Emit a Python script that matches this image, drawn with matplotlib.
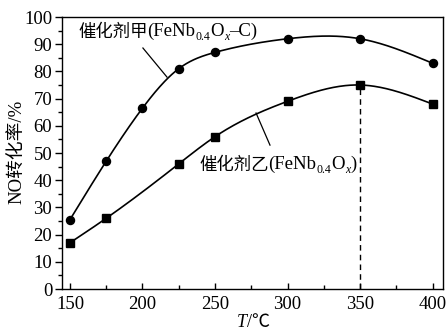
import numpy as np
import matplotlib
matplotlib.use("Agg")
import matplotlib.pyplot as plt
from matplotlib import transforms

# ---- data ----
t_a = [150, 175, 200, 225, 250, 300, 350, 400]
conv_a = [25.5, 47, 66.5, 81, 87, 92, 92, 83]
t_b = [150, 175, 225, 250, 300, 350, 400]
conv_b = [17, 26, 46, 56, 69, 75, 68]
xticks = [150, 200, 250, 300, 350, 400]
yticks = [0, 10, 20, 30, 40, 50, 60, 70, 80, 90, 100]
peak_t = 350
peak_val = 75

SERIF = "Liberation Serif"
CJK = "Noto Sans CJK SC"
FAM = [SERIF, CJK]


def natural_spline(x, y, n=300):
    x = np.asarray(x, float)
    y = np.asarray(y, float)
    m = len(x)
    h = np.diff(x)
    A = np.zeros((m, m))
    r = np.zeros(m)
    A[0, 0] = 1
    A[-1, -1] = 1
    for i in range(1, m - 1):
        A[i, i - 1] = h[i - 1]
        A[i, i] = 2 * (h[i - 1] + h[i])
        A[i, i + 1] = h[i]
        r[i] = 3 * ((y[i + 1] - y[i]) / h[i] - (y[i] - y[i - 1]) / h[i - 1])
    c = np.linalg.solve(A, r)
    b = np.zeros(m - 1)
    d = np.zeros(m - 1)
    for i in range(m - 1):
        b[i] = (y[i + 1] - y[i]) / h[i] - h[i] * (2 * c[i] + c[i + 1]) / 3
        d[i] = (c[i + 1] - c[i]) / (3 * h[i])
    xs = np.linspace(x[0], x[-1], n)
    idx = np.clip(np.searchsorted(x, xs) - 1, 0, m - 2)
    dx = xs - x[idx]
    ys = y[idx] + b[idx] * dx + c[idx] * dx ** 2 + d[idx] * dx ** 3
    return xs, ys


fig = plt.figure(figsize=(4.46, 3.28), dpi=100)
ax = fig.add_axes([62 / 446, 1 - 289 / 328, (443 - 62) / 446, (289 - 17) / 328])

xa, ya = natural_spline(t_a, conv_a)
xb, yb = natural_spline(t_b, conv_b)
ax.plot(xa, ya, color="black", lw=1.2)
ax.plot(xb, yb, color="black", lw=1.2)
ax.plot(t_a, conv_a, "o", color="black", ms=5.8, ls="none")
ax.plot(t_b, conv_b, "s", color="black", ms=6.2, ls="none")
ax.plot([peak_t, peak_t], [0, peak_val], color="black", lw=1.0, ls=(0, (4, 3)))

ax.set_xlim(144.5, 407.2)
ax.set_ylim(0, 100)
ax.set_xticks(xticks)
ax.set_xticks(np.arange(175, 400, 50), minor=True)
ax.set_yticks(yticks)
ax.set_yticks(np.arange(5, 100, 10), minor=True)
ax.tick_params(axis="x", which="both", direction="in", length=4, width=1.0, pad=5)
ax.tick_params(axis="x", which="minor", length=3)
ax.tick_params(axis="y", which="major", direction="out", length=5, width=1.0, pad=2)
ax.tick_params(axis="y", which="minor", direction="out", length=3, width=1.0)
for lab in ax.get_xticklabels() + ax.get_yticklabels():
    lab.set_fontfamily(SERIF)
    lab.set_fontsize(13.5)
for s in ax.spines.values():
    s.set_linewidth(1.0)

# leader lines (in data coordinates)
ax.plot([200.3, 216.9], [88.6, 77.9], color="black", lw=0.9)
ax.plot([287.9, 278.3], [52.9, 64.7], color="black", lw=0.9)


def rich_text(x, y, pieces, transform):
    fig.canvas.draw()
    renderer = fig.canvas.get_renderer()
    t = transform
    for txt, kw in pieces:
        kw = dict(kw)
        dy = kw.pop("dy", 0)
        tt = transforms.offset_copy(t, fig=fig, y=dy, units="points")
        text = fig.text(x, y, txt, transform=tt, va="baseline", ha="left", **kw)
        text.draw(renderer)
        ex = text.get_window_extent(renderer)
        t = transforms.offset_copy(t, fig=fig, x=ex.width, units="dots")


main = dict(family=FAM, fontsize=13.5, color="black")
cjk = dict(family=CJK, fontsize=12.5, color="black", dy=-1)
sub = dict(family=SERIF, fontsize=8.5, color="black", dy=-3)
subi = dict(family=SERIF, fontsize=8.5, style="italic", color="black", dy=-3)

rich_text(78 / 446, 1 - 36 / 328, [
    ("催化剂甲", cjk),
    ("(FeNb", main),
    ("0.4", sub),
    ("O", main),
    ("x", subi),
    ("\u2013C)", main),
], fig.transFigure)

rich_text(199 / 446, 1 - 169 / 328, [
    ("催化剂乙", cjk),
    ("(FeNb", main),
    ("0.4", sub),
    ("O", main),
    ("x", subi),
    (")", main),
], fig.transFigure)

# axis labels
fig.text(18 / 446, 1 - 152 / 328, "NO转化率/%", rotation=90, ha="center", va="center",
         family=[SERIF, CJK], fontsize=13.5)
rich_text(237 / 446, 1 - 327 / 328, [
    ("T", dict(family=SERIF, style="italic", fontsize=13)),
    ("/℃", dict(family=[SERIF, CJK, "DejaVu Sans"], fontsize=13)),
], fig.transFigure)

fig.savefig("out.png", dpi=100)
